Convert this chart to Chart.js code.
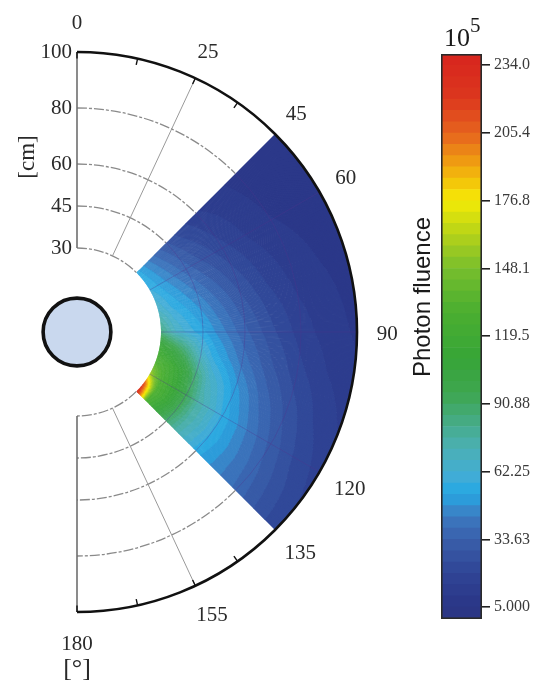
<!DOCTYPE html>
<html>
<head>
<meta charset="utf-8">
<script src="https://cdn.jsdelivr.net/npm/chart.js@4.4.1/dist/chart.umd.min.js"></script>
<style>
  html, body { margin: 0; padding: 0; background: #fff; }
  #wrap { position: relative; width: 535px; height: 684px; overflow: hidden; }
  #polar { position: absolute; left: 0; top: 0; }
  #bar { position: absolute; left: 441px; top: 0; }
</style>
</head>
<body>
<div id="wrap">
  <canvas id="polar" width="535" height="684"></canvas>
  <canvas id="bar" width="94" height="684"></canvas>
</div>
<script>
// ---- Photon fluence field (x 10^5), sampled on a polar grid ----
// angles in degrees measured clockwise from the 0 direction, radii in cm
const angles = [45, 60, 75, 90, 100, 110, 120, 127.5, 135];
const radii  = [30, 32.5, 35, 40, 45, 50, 60, 70, 80, 90, 100];
// one row per radius, one column per angle
const fluence = [
  [55, 58, 67, 85, 114, 128, 160, 215, 234],
  [50, 54, 62, 76, 107, 124, 140, 170, 185],
  [45, 50, 57, 68, 100, 120, 126, 130, 125],
  [36, 43, 51, 60,  84, 106, 112, 112, 105],
  [29, 36, 45, 54,  66,  86,  94,  93,  88],
  [23, 30, 39, 47,  55,  68,  76,  76,  74],
  [15, 21, 28, 35,  41,  50,  56,  57,  55],
  [11, 14, 19, 25,  30,  37,  43,  45,  45],
  [ 8, 10, 13, 17,  21,  27,  32,  35,  37],
  [ 7,  8, 10, 12,  15,  19,  23,  26,  28],
  [ 6,  7,  8,  9,  11,  14,  17,  19,  20]
];

// axis ticks
const angleTicks = [0, 25, 45, 60, 90, 120, 135, 155, 180];
const angleMinorTicks = [0, 12.5, 25, 35, 145, 155, 167.5, 180];
const radialTicks = [30, 45, 60, 80, 100];

// colour bar ticks
const cbTicks = [5.000, 33.63, 62.25, 90.88, 119.5, 148.1, 176.8, 205.4, 234.0];
const cbTickLabels = ['5.000', '33.63', '62.25', '90.88', '119.5', '148.1', '176.8', '205.4', '234.0'];

// contour levels: first band ends at the lowest tick, then equal steps
const levelCount = 50;
const levelStep = (cbTicks[cbTicks.length - 1] - cbTicks[0]) / 48;
const levelBase = cbTicks[0];
const levelTop = levelBase + (levelCount - 1) * levelStep;

// colour map stops (value -> rgb)
const cmapStops = [
  [0,   [42, 52, 130]],
  [10,  [44, 58, 140]],
  [20,  [48, 70, 150]],
  [30,  [55, 88, 165]],
  [40,  [60, 112, 185]],
  [47,  [55, 140, 205]],
  [53,  [35, 168, 228]],
  [60,  [65, 172, 215]],
  [72,  [75, 176, 180]],
  [85,  [68, 170, 125]],
  [95,  [62, 166, 80]],
  [110, [55, 165, 55]],
  [130, [75, 175, 48]],
  [148, [120, 190, 45]],
  [162, [180, 210, 25]],
  [177, [245, 235, 5]],
  [190, [242, 170, 15]],
  [205, [230, 100, 30]],
  [220, [220, 55, 30]],
  [240, [215, 35, 30]]
];

function cmap(v) {
  if (v <= cmapStops[0][0]) return cmapStops[0][1];
  for (let i = 1; i < cmapStops.length; i++) {
    if (v <= cmapStops[i][0]) {
      const [v0, c0] = cmapStops[i - 1], [v1, c1] = cmapStops[i];
      const t = (v - v0) / (v1 - v0);
      return c0.map((c, k) => Math.round(c + (c1[k] - c) * t));
    }
  }
  return cmapStops[cmapStops.length - 1][1];
}
function bandOf(v) {
  if (v < levelBase) return 0;
  return Math.max(0, Math.min(levelCount - 1, 1 + Math.floor((v - levelBase) / levelStep)));
}
function bandMid(i) {
  return i === 0 ? levelBase / 2 : levelBase + (i - 0.5) * levelStep;
}
function bandColor(i) {
  const c = cmap(bandMid(i));
  return `rgb(${c[0]},${c[1]},${c[2]})`;
}

function seg(arr, v) {
  for (let k = 0; k < arr.length - 2; k++) if (v <= arr[k + 1]) return k;
  return arr.length - 2;
}
// bilinear value between grid nodes
function fieldAt(r, a) {
  const i = seg(radii, r), j = seg(angles, a);
  const tr = (r - radii[i]) / (radii[i + 1] - radii[i]);
  const ta = (a - angles[j]) / (angles[j + 1] - angles[j]);
  const f = fluence;
  return (1 - tr) * ((1 - ta) * f[i][j] + ta * f[i][j + 1]) +
         tr * ((1 - ta) * f[i + 1][j] + ta * f[i + 1][j + 1]);
}

const serif = '"Liberation Serif", "DejaVu Serif", serif';
const sans = '"Liberation Sans", Arial, sans-serif';

// ---- polar contour map drawn on linear x/y scales ----
const polarPlugin = {
  id: 'polarContour',
  afterDraw(chart) {
    const ctx = chart.ctx;
    const X = chart.scales.x, Y = chart.scales.y;
    const cx = X.getPixelForValue(0), cy = Y.getPixelForValue(0);
    const rad = r => X.getPixelForValue(r) - cx;
    const ang = d => (d - 90) * Math.PI / 180;
    const pt = (r, d) => [
      X.getPixelForValue(r * Math.sin(d * Math.PI / 180)),
      Y.getPixelForValue(r * Math.cos(d * Math.PI / 180))
    ];
    const rMin = radii[0], rMax = radii[radii.length - 1];
    const aMin = angles[0], aMax = angles[angles.length - 1];

    function sector(r0, r1, a0, a1) {
      ctx.beginPath();
      ctx.arc(cx, cy, rad(r1), ang(a0), ang(a1));
      ctx.arc(cx, cy, rad(r0), ang(a1), ang(a0), true);
      ctx.closePath();
      ctx.fill();
    }

    ctx.save();
    // filled contour bands
    const aStep = 0.25, rStep = 0.25;
    for (let a = aMin; a < aMax - 1e-9; a += aStep) {
      const aMid = a + aStep / 2;
      const aEnd = Math.min(a + aStep + 0.2, aMax);
      let runStart = rMin;
      let band = bandOf(fieldAt(rMin + rStep / 2, aMid));
      for (let r = rMin + rStep; r <= rMax + 1e-9; r += rStep) {
        const last = r >= rMax - 1e-9;
        const b = last ? -1 : bandOf(fieldAt(r + rStep / 2, aMid));
        if (b !== band) {
          ctx.fillStyle = bandColor(band);
          sector(runStart, last ? rMax : r + rStep * 0.6, a, aEnd);
          runStart = r;
          band = b;
        }
      }
    }

    // dashed grid circles outside the map
    ctx.strokeStyle = '#8a8a8a';
    ctx.lineWidth = 1.3;
    ctx.setLineDash([10, 2, 3, 2]);
    radialTicks.filter(r => r < rMax).forEach(r => {
      ctx.beginPath(); ctx.arc(cx, cy, rad(r), ang(0), ang(aMin)); ctx.stroke();
      ctx.beginPath(); ctx.arc(cx, cy, rad(r), ang(aMax), ang(180)); ctx.stroke();
    });
    ctx.setLineDash([]);

    // radial grid lines outside the map
    ctx.strokeStyle = '#9a9a9a';
    ctx.lineWidth = 1;
    angleTicks.filter(d => d > 0 && d < 180 && (d < aMin || d > aMax)).forEach(d => {
      const p0 = pt(rMin, d), p1 = pt(rMax, d);
      ctx.beginPath(); ctx.moveTo(p0[0], p0[1]); ctx.lineTo(p1[0], p1[1]); ctx.stroke();
    });

    // faint grid over the map
    ctx.strokeStyle = 'rgba(80,50,140,0.32)';
    ctx.lineWidth = 1;
    angleTicks.filter(d => d > aMin && d < aMax).forEach(d => {
      const p0 = pt(rMin, d), p1 = pt(rMax, d);
      ctx.beginPath(); ctx.moveTo(p0[0], p0[1]); ctx.lineTo(p1[0], p1[1]); ctx.stroke();
    });
    radialTicks.filter(r => r > rMin && r < rMax).forEach(r => {
      ctx.beginPath(); ctx.arc(cx, cy, rad(r), ang(aMin), ang(aMax)); ctx.stroke();
    });

    // 0 and 180 axis lines
    ctx.strokeStyle = '#6f6f6f';
    ctx.lineWidth = 1.6;
    [0, 180].forEach(d => {
      const p0 = pt(rMin, d), p1 = pt(rMax, d);
      ctx.beginPath(); ctx.moveTo(p0[0], p0[1]); ctx.lineTo(p1[0], p1[1]); ctx.stroke();
    });

    // outer boundary with minor ticks
    ctx.strokeStyle = '#111';
    ctx.lineWidth = 2.6;
    ctx.beginPath(); ctx.arc(cx, cy, rad(rMax), ang(0), ang(180)); ctx.stroke();
    ctx.lineWidth = 1.4;
    angleMinorTicks.forEach(d => {
      const p0 = pt(rMax, d), p1 = pt(rMax - 2.3, d);
      ctx.beginPath(); ctx.moveTo(p0[0], p0[1]); ctx.lineTo(p1[0], p1[1]); ctx.stroke();
    });

    // sample at the centre
    ctx.beginPath();
    ctx.arc(cx, cy, rad(12.1), 0, Math.PI * 2);
    ctx.fillStyle = '#c9d8ee';
    ctx.fill();
    ctx.lineWidth = 3.6;
    ctx.strokeStyle = '#111';
    ctx.stroke();

    // radial tick labels
    ctx.fillStyle = '#2a2a2a';
    ctx.font = `21px ${serif}`;
    ctx.textAlign = 'right';
    ctx.textBaseline = 'middle';
    radialTicks.forEach(r => {
      const p = pt(r, 0);
      ctx.fillText(String(r), p[0] - 5, p[1]);
    });

    // angle tick labels
    ctx.textAlign = 'center';
    angleTicks.forEach(d => {
      const p = pt(110.8, d);
      ctx.fillText(String(d), p[0] + (d > 90 && d < 180 ? 4 : 0), p[1] + 2);
    });

    // unit labels
    ctx.save();
    ctx.font = `23px ${serif}`;
    ctx.translate(28, Y.getPixelForValue(62.5));
    ctx.rotate(-Math.PI / 2);
    ctx.fillText('[cm]', 0, 0);
    ctx.restore();
    ctx.font = `26px ${serif}`;
    const pu = pt(120.5, 180);
    ctx.fillText('[°]', pu[0], pu[1]);

    // colour bar title and exponent
    ctx.textAlign = 'left';
    ctx.textBaseline = 'alphabetic';
    ctx.font = `26px ${serif}`;
    ctx.fillStyle = '#1a1a1a';
    ctx.fillText('10', 444, 46);
    ctx.font = `21px ${serif}`;
    ctx.fillText('5', 470, 32);

    ctx.save();
    ctx.font = `24px ${sans}`;
    ctx.textAlign = 'center';
    ctx.textBaseline = 'middle';
    ctx.translate(423, 297);
    ctx.rotate(-Math.PI / 2);
    ctx.fillText('Photon fluence', 0, 0);
    ctx.restore();

    ctx.restore();
  }
};

new Chart(document.getElementById('polar'), {
  type: 'scatter',
  data: { datasets: [] },
  options: {
    responsive: false,
    animation: false,
    devicePixelRatio: 1,
    layout: { padding: 0 },
    plugins: { legend: { display: false }, tooltip: { enabled: false } },
    scales: {
      x: { type: 'linear', min: -27.5, max: 163.571, display: false },
      y: { type: 'linear', min: -125.714, max: 118.571, display: false }
    }
  },
  plugins: [polarPlugin]
});

// ---- colour bar: stacked bar of contour levels ----
const barOutline = {
  id: 'barOutline',
  afterDatasetsDraw(chart) {
    const { ctx, chartArea: a } = chart;
    ctx.save();
    ctx.strokeStyle = '#2a2a2a';
    ctx.lineWidth = 1.6;
    ctx.strokeRect(a.left + 0.8, a.top + 0.8, a.right - a.left - 1.6, a.bottom - a.top - 1.6);
    ctx.restore();
  }
};

const levelDatasets = [];
for (let i = 0; i < levelCount; i++) {
  levelDatasets.push({
    data: [i === 0 ? levelBase : levelStep],
    backgroundColor: bandColor(i),
    borderWidth: 0,
    barPercentage: 1,
    categoryPercentage: 1,
    stack: 'levels'
  });
}

new Chart(document.getElementById('bar'), {
  type: 'bar',
  data: { labels: [''], datasets: levelDatasets },
  options: {
    responsive: false,
    animation: false,
    devicePixelRatio: 1,
    layout: { padding: { top: 54, bottom: 65, left: 0, right: 0 } },
    plugins: { legend: { display: false }, tooltip: { enabled: false } },
    scales: {
      x: { display: false, stacked: true },
      y: {
        stacked: true,
        position: 'right',
        min: 0,
        max: levelTop,
        afterBuildTicks: s => { s.ticks = cbTicks.map(v => ({ value: v })); },
        afterFit: s => { s.width = 53; },
        ticks: {
          autoSkip: false,
          padding: 4,
          color: '#3a3a3a',
          font: { family: serif, size: 16 },
          callback: (v, i) => cbTickLabels[i]
        },
        grid: { drawOnChartArea: false, drawTicks: true, tickLength: 8, color: '#222', lineWidth: 1.6 },
        border: { display: false }
      }
    }
  },
  plugins: [barOutline]
});
</script>
</body>
</html>
